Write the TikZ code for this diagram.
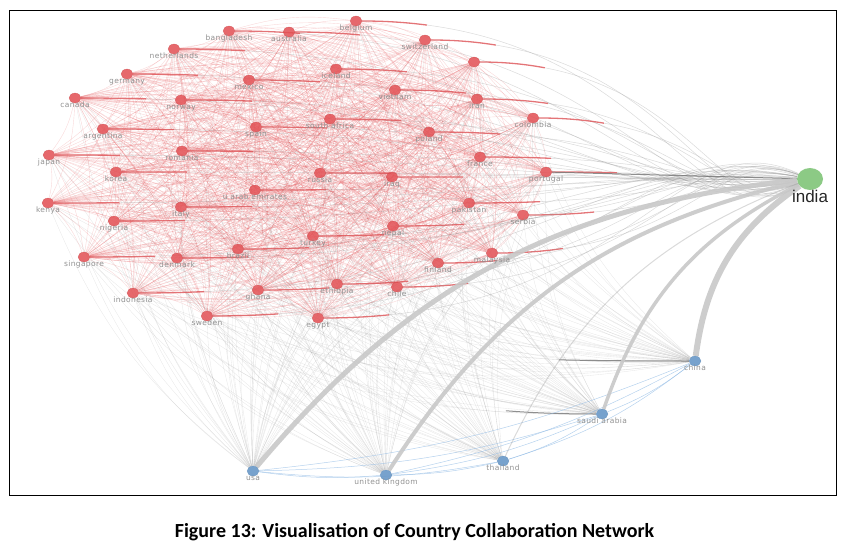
\documentclass[tikz,border=0pt]{standalone}
\usepackage{fontspec}
\setmainfont{Liberation Sans}
\newfontfamily\labfont[LetterSpace=5]{DejaVu Sans}
\newfontfamily\capfont{Carlito}
\usetikzlibrary{shapes.geometric,calc,backgrounds}
\definecolor{rednode}{RGB}{226,78,82}
\definecolor{bluenode}{RGB}{104,152,200}
\definecolor{greennode}{RGB}{128,196,120}
\definecolor{labgray}{RGB}{145,145,145}
\definecolor{edgegray}{RGB}{150,150,150}
\definecolor{thickgray}{RGB}{200,200,200}
\definecolor{edgeblue}{RGB}{150,190,230}
\tikzset{
  rnode/.style={ellipse, minimum width=12pt, minimum height=10pt, inner sep=0pt,
    fill=rednode, fill opacity=0.85, draw=rednode!80!black, draw opacity=0.4,
    line width=0.3pt, label distance=1.5pt},
  bnode/.style={ellipse, minimum width=12pt, minimum height=10pt, inner sep=0pt,
    fill=bluenode, fill opacity=0.9, draw=bluenode!80!black, draw opacity=0.4,
    line width=0.3pt, label distance=1.5pt},
  gnode/.style={ellipse, minimum width=26pt, minimum height=22pt, inner sep=0pt,
    fill=greennode, fill opacity=0.9, label distance=-2pt},
  lab/.style={font=\labfont\fontsize{7.5}{8}\selectfont, text=labgray, text opacity=1,
    inner sep=0pt, text height=4.5pt, text depth=1.5pt},
  indialab/.style={font=\fontsize{17}{18}\selectfont, text=black!85, text opacity=1,
    inner sep=0pt, text height=12pt, text depth=0pt},
  rr/.style={draw=rednode, draw opacity=0.22, line width=0.4pt},
  redseg/.style={draw=rednode, draw opacity=0.75, line width=1.3pt,
    dash pattern=on 65pt off 5000pt},
  ig/.style={draw=edgegray, draw opacity=0.35, line width=0.5pt},
  bg/.style={draw=edgegray, draw opacity=0.22, line width=0.35pt},
  bb/.style={draw=edgeblue, draw opacity=0.7, line width=0.5pt},
  thickedge/.style={draw=thickgray, draw opacity=0.9},
  darkseg/.style={draw=black!55, draw opacity=0.8, line width=1pt},
  capnode/.style={font=\capfont\bfseries\fontsize{20}{24}\selectfont, anchor=base, inner sep=0pt},
  framebox/.style={draw=black, line width=1pt}
}
\def\redlist{r1/229/31/bangladesh, r2/289/32/australia, r3/356/21/belgium,
  r4/425/40/switzerland, r5/174/49/netherlands, r6/474/62/, r7/127/74/germany,
  r8/249/80/mexico, r9/336/69/iceland, r10/75/98/canada, r11/181/100/norway,
  r12/395/90/vietnam, r13/477/99/iran, r14/103/129/argentina, r15/256/127/spain,
  r16/330/119/south africa, r17/429/132/poland, r18/533/118/colombia,
  r19/49/155/japan, r20/182/151/romania, r21/116/172/korea, r22/320/173/russia,
  r23/392/177/iraq, r24/480/157/france, r25/546/172/portugal, r26/48/203/kenya,
  r27/255/190/u arab emirates, r28/181/207/italy, r29/469/203/pakistan,
  r30/523/215/serbia, r31/114/221/nigeria, r32/393/226/nepal, r33/313/236/turkey,
  r34/84/257/singapore, r35/177/258/denmark, r36/238/249/brazil,
  r37/492/253/malaysia, r38/438/263/finland, r39/258/290/ghana,
  r40/337/284/ethiopia, r41/397/287/chile, r42/133/293/indonesia,
  r43/207/316/sweden, r44/318/318/egypt}
\begin{document}
\begin{tikzpicture}[x=1pt,y=-1pt]
\useasboundingbox (0,0) rectangle (845,556);
\node[framebox, minimum width=827pt, minimum height=484pt, inner sep=0pt] (frame) at (423,253) {};
% nodes
\foreach \n/\x/\y/\lb in \redlist {
  \node[rnode, label={[lab]below:\lb}] (\n) at (\x,\y) {};
}
\node[bnode, label={[lab]below:china}] (china) at (695,361) {};
\node[bnode, label={[lab]below:saudi arabia}] (saudi) at (602,414) {};
\node[bnode, label={[lab]below:thailand}] (thai) at (503,461) {};
\node[bnode, label={[lab]below:usa}] (usa) at (253,471) {};
\node[bnode, label={[lab]below:united kingdom}] (uk) at (386,475) {};
\node[gnode, label={[indialab]below:india}] (india) at (810,179) {};
\node[capnode] (caption) at (414.5,537) {Figure 13: Visualisation of Country Collaboration Network};
% edges
\begin{scope}[on background layer]
  % blue to red
  \foreach \b in {usa,uk,thai,saudi,china} {
    \foreach \i in {1,...,44} {
      \draw[bg] (\b) to[bend left=15] (r\i);
    }
  }
  % red to red
  \foreach \i in {1,...,43} {
    \pgfmathtruncatemacro\nx{\i+1}
    \foreach \j in {\nx,...,44} {
      \draw[rr] (r\i) to[bend left=12] (r\j);
    }
  }
  % red to india
  \foreach \n/\x/\y/\lb in \redlist {
    \pgfmathsetmacro\ang{180+1.6*atan2(179-\y,810-\x)}
    \draw[ig] (\n) to[out=0,in=\ang,out looseness=1.6,in looseness=0.7] (india);
    \draw[redseg] (\n) to[out=0,in=\ang,out looseness=1.6,in looseness=0.7] (india);
  }
  \draw[darkseg] (r25) -- (india);
  \draw[darkseg, dash pattern=on 130pt off 5000pt] (china) to[out=180,in=-20,out looseness=1.6] (r34);
  \draw[darkseg, dash pattern=on 90pt off 5000pt] (saudi) to[out=180,in=-10,out looseness=1.6] (r42);
  % blue to blue
  \draw[bb] (usa) to[bend right=6] (uk);
  \draw[bb] (uk) to[bend right=6] (thai);
  \draw[bb] (thai) to[bend right=8] (saudi);
  \draw[bb] (saudi) to[bend right=8] (china);
  \draw[bb] (usa) to[bend right=8] (thai);
  \draw[bb] (uk) to[bend right=8] (saudi);
  \draw[bb] (thai) to[bend right=10] (china);
  \draw[bb] (usa) to[bend right=8] (saudi);
  \draw[bb] (uk) to[bend right=8] (china);
  \draw[bb] (usa) to[bend right=8] (china);
  % india to blue
  \draw[thickedge, line width=5pt] (india) to[bend right=22] (usa);
  \draw[thickedge, line width=4pt] (india) to[bend right=22] (uk);
  \draw[thickedge, line width=3.5pt] (india) to[bend right=22] (saudi);
  \draw[thickedge, line width=6pt] (india) to[bend right=24] (china);
  \draw[ig, line width=1pt] (india) to[bend right=22] (thai);
\end{scope}
\end{tikzpicture}
\end{document}
